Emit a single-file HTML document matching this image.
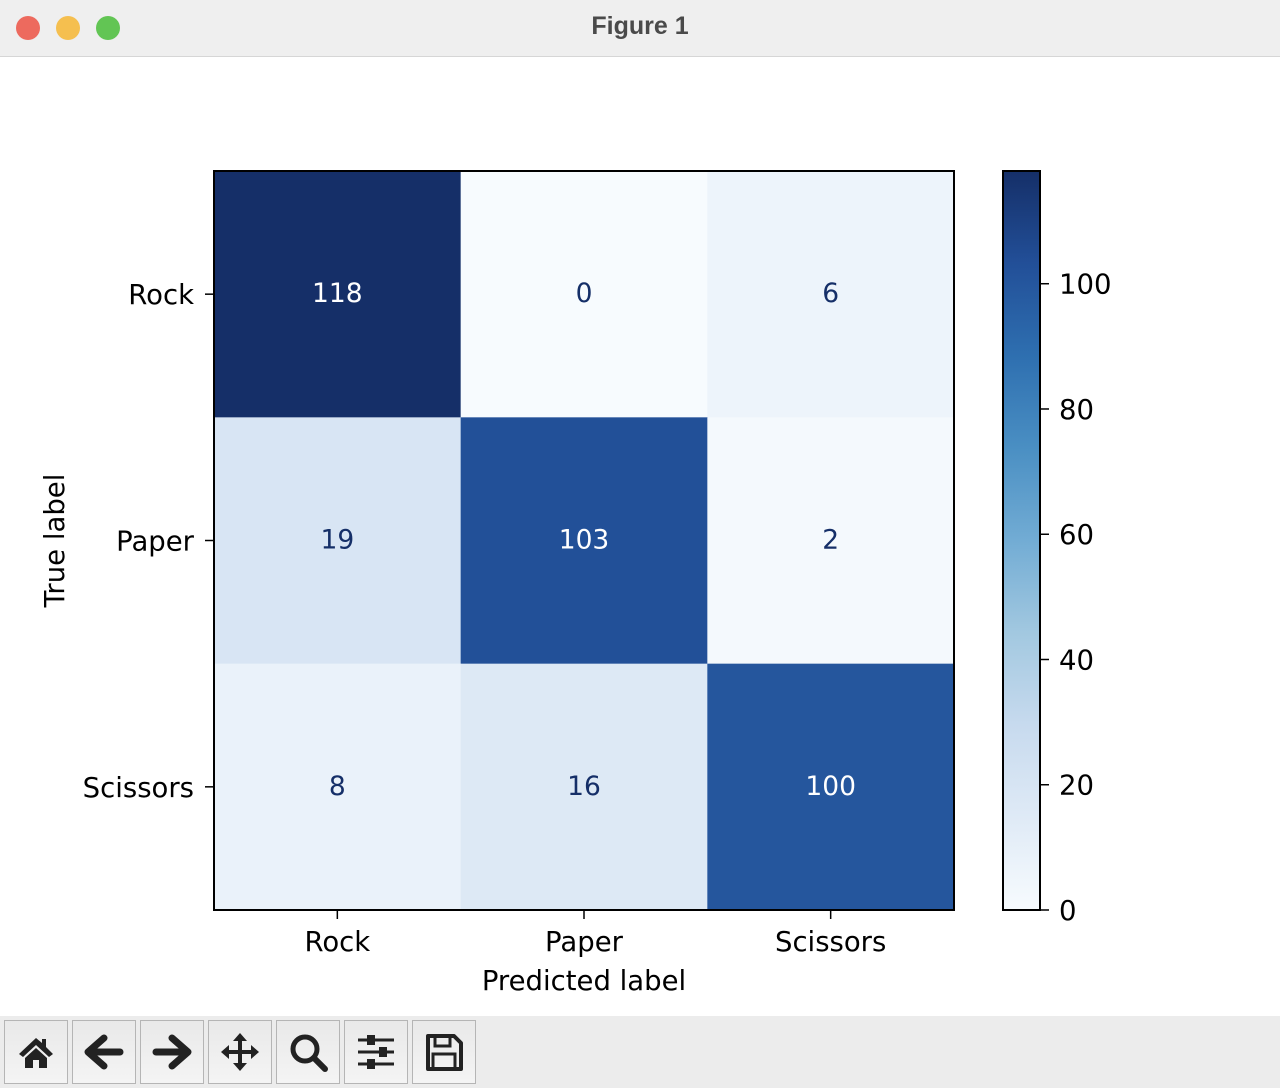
<!DOCTYPE html>
<html><head><meta charset="utf-8"><style>
body{margin:0;width:1280px;height:1088px;overflow:hidden;background:#fff;font-family:"DejaVu Sans","Liberation Sans",sans-serif}
#titlebar{position:absolute;left:0;top:0;width:1280px;height:56px;background:#efefef;border-bottom:1px solid #d6d6d6}
.dot{position:absolute;top:16px;width:24px;height:24px;border-radius:50%}
#title{position:absolute;left:0;width:1280px;top:12px;text-align:center;font:bold 25px "Liberation Sans",sans-serif;color:#4a4a4a}
#toolbar{position:absolute;left:0;top:1016px;width:1280px;height:72px;background:#ececec}
.btn{position:absolute;top:4px;width:62px;height:62px;border:1px solid #b5b5b5;background:linear-gradient(#e9e9e9,#f4f4f4)}
.btn svg{position:absolute;left:11px;top:11px}
</style></head><body>
<div id="titlebar">
<div class="dot" style="left:16px;background:#ed6a5e"></div>
<div class="dot" style="left:56px;background:#f5bf4f"></div>
<div class="dot" style="left:96px;background:#62c554"></div>
<div id="title">Figure 1</div>
</div>
<svg id="chart" width="1280" height="960" style="position:absolute;left:0;top:56px"></svg>
<div id="toolbar">
<div class="btn" style="left:4px"><svg width="40" height="40" viewBox="0 0 40 40"><path d="M20 6 L3 22 L7 25 L20 13 L33 25 L37 22 L30 15 V7 H26 V11 Z" fill="#222"/><path d="M9 26 L20 16 L31 26 V36 H23 V28 H17 V36 H9Z" fill="#222"/></svg></div>
<div class="btn" style="left:72px"><svg width="40" height="40" viewBox="0 0 40 40"><path d="M20 6 L4 20 L20 34 M6 20 H36" stroke="#222" stroke-width="7" stroke-linecap="round" stroke-linejoin="round" fill="none"/></svg></div>
<div class="btn" style="left:140px"><svg width="40" height="40" viewBox="0 0 40 40"><path d="M20 6 L36 20 L20 34 M34 20 H4" stroke="#222" stroke-width="7" stroke-linecap="round" stroke-linejoin="round" fill="none"/></svg></div>
<div class="btn" style="left:208px"><svg width="40" height="40" viewBox="0 0 40 40"><path d="M20 4 V36 M4 20 H36" stroke="#222" stroke-width="4"/><path d="M20 1 L27 9 H13Z M20 39 L27 31 H13Z M1 20 L9 13 V27Z M39 20 L31 13 V27Z" fill="#222"/></svg></div>
<div class="btn" style="left:276px"><svg width="40" height="40" viewBox="0 0 40 40"><circle cx="17" cy="17" r="12" stroke="#222" stroke-width="5" fill="none"/><path d="M26 26 L37 37" stroke="#222" stroke-width="6" stroke-linecap="round"/></svg></div>
<div class="btn" style="left:344px"><svg width="40" height="40" viewBox="0 0 40 40"><path d="M2 8H38M2 20H38M2 32H38" stroke="#222" stroke-width="3"/><rect x="11" y="3" width="8" height="10" fill="#222"/><rect x="23" y="15" width="8" height="10" fill="#222"/><rect x="11" y="27" width="8" height="10" fill="#222"/></svg></div>
<div class="btn" style="left:412px"><svg width="40" height="40" viewBox="0 0 40 40"><path d="M4 4 H30 L37 11 V37 H4Z" stroke="#222" stroke-width="4" fill="none" stroke-linejoin="round"/><rect x="11" y="4" width="15" height="10" stroke="#222" stroke-width="3" fill="none"/><rect x="9" y="22" width="22" height="15" stroke="#222" stroke-width="3" fill="none"/></svg></div>
</div>
<script>
const categories=["Rock","Paper","Scissors"];
const row0=[118,0,6];
const row1=[19,103,2];
const row2=[8,16,100];
const matrix=[row0,row1,row2];
const cbTicks=[0,20,40,60,80,100];
const NS="http://www.w3.org/2000/svg";
const svg=document.getElementById('chart');
const OY=56;
const X0=214,X1=954,Y0=171-OY,Y1=910-OY;
const vmin=Math.min(...matrix.flat()),vmax=Math.max(...matrix.flat());
const stops=["#f7fbfe","#dfeaf6","#c7daee","#a2c8e0","#72acd4","#4a8fc3","#2e6fb0","#224f98","#152f68"];
function hex(h){return [1,3,5].map(i=>parseInt(h.substr(i,2),16));}
function cmap(t){t=Math.max(0,Math.min(1,t));const p=t*8,i=Math.min(7,Math.floor(p)),f=p-i;const a=hex(stops[i]),b=hex(stops[i+1]);return 'rgb('+a.map((v,k)=>Math.round(v+(b[k]-v)*f)).join(',')+')';}
const cw=(X1-X0)/categories.length,ch=(Y1-Y0)/categories.length;
function xs(j){return X0+j*cw;} function ys(i){return Y0+i*ch;}
function el(tag,attrs,parent){const e=document.createElementNS(NS,tag);for(const k in attrs)e.setAttribute(k,attrs[k]);(parent||svg).appendChild(e);return e;}
function txt(s,attrs){const t=el('text',Object.assign({'font-family':'DejaVu Sans, Liberation Sans, sans-serif','font-size':27.5},attrs));t.textContent=s;return t;}
const mid=(vmin+vmax)/2;
matrix.forEach((row,i)=>row.forEach((v,j)=>{
 const r=el('rect',{x:xs(j),y:ys(i),width:cw+0.5,height:ch+0.5,fill:cmap((v-vmin)/(vmax-vmin))});
 
 
 const t=txt(String(v),{x:xs(j)+cw/2,y:ys(i)+ch/2+8,'text-anchor':'middle','font-size':26.5,fill:v>mid?'#ffffff':'#152f68'});
 
 
}));
const frame=el('rect',{x:X0,y:Y0,width:X1-X0,height:Y1-Y0,fill:'none',stroke:'#000','stroke-width':2});


categories.forEach((c,k)=>{
 el('line',{x1:xs(k)+cw/2,x2:xs(k)+cw/2,y1:Y1,y2:Y1+9,stroke:'#000','stroke-width':1.5});
 const xt=txt(c,{x:xs(k)+cw/2,y:Y1+41,'text-anchor':'middle',fill:'#000'});
 
 
 el('line',{x1:X0-9,x2:X0,y1:ys(k)+ch/2,y2:ys(k)+ch/2,stroke:'#000','stroke-width':1.5});
 const yt=txt(c,{x:X0-20,y:ys(k)+ch/2+10,'text-anchor':'end',fill:'#000'});
 
 
});
const xl=txt('Predicted label',{x:(X0+X1)/2,y:Y1+80,'text-anchor':'middle',fill:'#000'});


const yl=txt('True label',{x:0,y:0,'text-anchor':'middle',fill:'#000',transform:'translate(64,'+((Y0+Y1)/2)+') rotate(-90)'});


const CX0=1003,CX1=1040;
const defs=el('defs',{});
const g=el('linearGradient',{id:'cb',x1:0,y1:1,x2:0,y2:0},defs);
stops.forEach((s,k)=>el('stop',{offset:k/8,'stop-color':s},g));
const cb=el('rect',{x:CX0,y:Y0,width:CX1-CX0,height:Y1-Y0,fill:'url(#cb)',stroke:'#000','stroke-width':2});


function cy(v){return Y1-(v-vmin)/(vmax-vmin)*(Y1-Y0);}
cbTicks.forEach(v=>{
 el('line',{x1:CX1,x2:CX1+9,y1:cy(v),y2:cy(v),stroke:'#000','stroke-width':1.5});
 const t=txt(String(v),{x:CX1+19,y:cy(v)+10,fill:'#000'});
 
 
});
</script>
</body></html>
